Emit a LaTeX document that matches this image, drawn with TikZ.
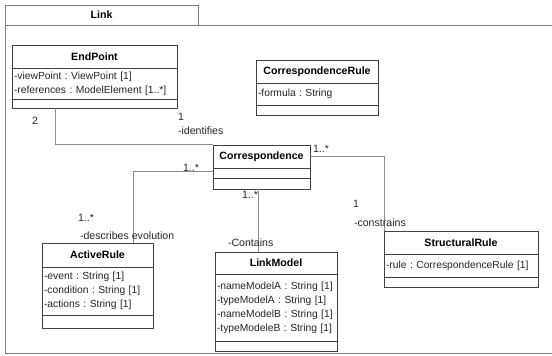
\documentclass[tikz,border=0pt]{standalone}
\usepackage{fontspec}
\setmainfont{Liberation Sans}
\frenchspacing
\definecolor{c404040}{RGB}{64,64,64}
\definecolor{c7F7F7F}{RGB}{127,127,127}
\definecolor{c8C8C8C}{RGB}{140,140,140}
\definecolor{c262626}{RGB}{38,38,38}
\usetikzlibrary{positioning}
\tikzset{
  ctitle/.style={draw=c404040,line width=0.8pt,fill=white,text=black,
    font=\bfseries\fontsize{10.6}{13}\selectfont,text width=#1,align=center,
    inner xsep=2pt,minimum height=23pt,anchor=north west},
  cattr/.style={draw=c404040,line width=0.8pt,fill=white,text=c262626,
    font=\fontsize{10.3}{14}\selectfont,text width=#1,align=left,inner xsep=2pt},
  cops/.style={draw=c404040,line width=0.8pt,fill=white,text width=#1,
    inner xsep=2pt,minimum height=10pt},
  assoc/.style={draw=c8C8C8C,line width=0.9pt},
  role/.style={font=\fontsize{10.6}{13}\selectfont,text=c262626,anchor=west}
}
\begin{document}
\begin{tikzpicture}[y=1pt,x=1pt,yscale=-1,inner sep=0pt,outer sep=0pt]
  \useasboundingbox (0,0) rectangle (552,356);
  \path[draw=c7F7F7F,line width=1pt] (5,5) rectangle (198,25);
  \path[draw=c7F7F7F,line width=1pt] (553,25) -- (5,25) -- (5,353) -- (553,353);
  \node[font=\bfseries\fontsize{10.6}{13}\selectfont] (pkg) at (101.5,15) {Link};

  \node[ctitle=161pt] (endpoint) at (12,45) {EndPoint};
  \node[cattr=161pt,minimum height=31pt,below=0pt of endpoint] (endpoint-a)
    {-viewPoint : ViewPoint [1]\\-references : ModelElement [1..*]};
  \node[cops=161pt,minimum height=9pt,below=0pt of endpoint-a] (endpoint-o) {};

  \node[ctitle=118pt] (corrrule) at (256,60) {CorrespondenceRule};
  \node[cattr=118pt,minimum height=22pt,below=0pt of corrrule] (corrrule-a)
    {-formula : String};
  \node[cops=118pt,below=0pt of corrrule-a] (corrrule-o) {};

  \node[ctitle=93pt] (corresp) at (213,145) {Correspondence};
  \node[cattr=93pt,minimum height=10pt,below=0pt of corresp] (corresp-a) {};
  \node[cops=93pt,minimum height=11pt,below=0pt of corresp-a] (corresp-o) {};

  \node[ctitle=107pt,minimum height=24pt] (activerule) at (42,243) {ActiveRule};
  \node[cattr=107pt,minimum height=48pt,below=0pt of activerule] (activerule-a)
    {-event : String [1]\\-condition : String [1]\\-actions : String [1]};
  \node[cops=107pt,minimum height=13pt,below=0pt of activerule-a] (activerule-o) {};

  \node[ctitle=118pt,minimum height=22pt] (linkmodel) at (215,252) {LinkModel};
  \node[cattr=118pt,minimum height=67pt,below=0pt of linkmodel] (linkmodel-a)
    {-nameModelA : String [1]\\-typeModelA : String [1]\\-nameModelB : String [1]\\-typeModeleB : String [1]};
  \node[cops=118pt,below=0pt of linkmodel-a] (linkmodel-o) {};

  \node[ctitle=150pt] (structrule) at (384,231) {StructuralRule};
  \node[cattr=150pt,minimum height=23pt,below=0pt of structrule] (structrule-a)
    {-rule : CorrespondenceRule [1]};
  \node[cops=150pt,below=0pt of structrule-a] (structrule-o) {};

  \draw[assoc] ([xshift=43pt]endpoint-o.south west) |- ([yshift=-1pt]corresp.north west);
  \draw[assoc] ([yshift=-2pt]corresp-a.west) -| ([xshift=91pt]activerule.north west);
  \draw[assoc] ([xshift=43pt]linkmodel.north west) -- ([xshift=43pt]linkmodel.north west |- corresp-o.south);
  \draw[assoc] (corresp.east) -| (structrule.north west);

  \node[role] (ep-mult) at (32,121) {2};
  \node[role] (id-mult) at (178,117) {1};
  \node[role] (id-role) at (178,131) {-identifies};
  \node[role] (ev-mult1) at (183,168) {1..*};
  \node[role] (ev-mult2) at (78,218) {1..*};
  \node[role] (ev-role) at (80,236) {-describes evolution};
  \node[role] (ct-mult) at (242,195) {1..*};
  \node[role] (ct-role) at (228,243) {-Contains};
  \node[role] (cs-mult1) at (313,149) {1..*};
  \node[role] (cs-mult2) at (353,204) {1};
  \node[role] (cs-role) at (354,223) {-constrains};
\end{tikzpicture}
\end{document}
